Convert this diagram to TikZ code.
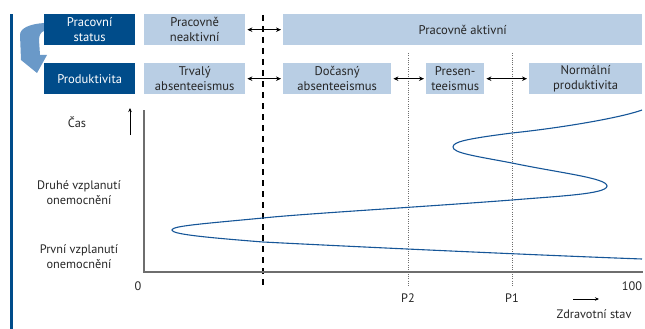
\documentclass[tikz,border=0pt]{standalone}
\usepackage{fontspec}
\setmainfont{PT Sans}
\usetikzlibrary{arrows.meta}

\definecolor{darkbox}{RGB}{0,76,138}
\definecolor{lightbox}{RGB}{185,206,228}
\definecolor{curveblue}{RGB}{22,86,152}
\definecolor{bendblue}{RGB}{106,153,200}
\definecolor{axisgray}{RGB}{110,110,110}

\tikzset{
  headbox/.style={fill=darkbox, text=white, minimum width=91pt, minimum height=31pt,
    align=center, inner sep=0pt, anchor=north west, font=\fontsize{12.6}{15}\selectfont},
  statebox/.style={fill=lightbox, text=black!85, minimum height=31pt,
    align=center, inner sep=0pt, anchor=north west, font=\fontsize{12.6}{15}\selectfont},
  twoway/.style={{Stealth[length=5pt,width=4.5pt]}-{Stealth[length=5pt,width=4.5pt]},
    thick, shorten >=2pt, shorten <=2pt},
  axistext/.style={align=center, text=black!85, font=\fontsize{12.3}{15}\selectfont},
}

\begin{document}
\begin{tikzpicture}[x=1pt, y=-1pt]
    \useasboundingbox (0,0) rectangle (645,329);

    % Side bar and bent arrow
    \fill[darkbox] (10,14) rectangle (13,329);
    \fill[bendblue] (44,23) .. controls (30,24) and (20,28) .. (20,35)
        -- (21,60) -- (37,73) -- (47,55) -- (40,55) -- (39,40)
        .. controls (39,35) and (41,32) .. (44,31) -- cycle;

    % Row labels
    \node[headbox] (status) at (44,14) {Pracovní\\status};
    \node[headbox] (prod) at (44,63) {Produktivita};

    % Boxes
    \node[statebox, minimum width=101pt] (neakt) at (144,14) {Pracovně\\neaktivní};
    \node[statebox, minimum width=359pt] (akt) at (283,14) {Pracovně aktivní};
    \node[statebox, minimum width=101pt] (trvaly) at (144,63) {Trvalý\\absenteeismus};
    \node[statebox, minimum width=108pt] (docasny) at (283,63) {Dočasný\\absenteeismus};
    \node[statebox, minimum width=58pt] (presen) at (426,63) {Presen-\\teeismus};
    \node[statebox, minimum width=113pt] (normal) at (529,63) {Normální\\produktivita};

    % Thresholds
    \draw[line width=2.2pt, dash pattern=on 6pt off 5pt] (263,15) -- (263,287);
    \draw[axisgray, line width=0.8pt, dash pattern=on 1pt off 1.3pt] (408,53) -- (408,287);
    \draw[axisgray, line width=0.8pt, dash pattern=on 1pt off 1.3pt] (512,53) -- (512,287);

    \draw[twoway] (neakt.east) -- (akt.west);
    \draw[twoway] (trvaly.east) -- (docasny.west);
    \draw[twoway] (docasny.east) -- (presen.west);
    \draw[twoway] (presen.east) -- (normal.west);

    % Axes
    \draw[axisgray, line width=1.1pt] (144,110) -- (144,272) -- (643,272);
    \node[axistext] (cas) at (77,122) {Čas};
    \coordinate (casbot) at (130,135);
    \coordinate (castop) at (130,108);
    \draw[-{Stealth[length=4pt,width=3.5pt]}, thick] (casbot) -- (castop);
    \node[axistext] (druhe) at (79,193) {Druhé vzplanutí\\onemocnění};
    \node[axistext] (prvni) at (79,257) {První vzplanutí\\onemocnění};
    \node[axistext] (nula) at (138,286) {0};
    \node[axistext] (sto) at (632,286) {100};
    \node[axistext] (ptwo) at (408,298) {P2};
    \node[axistext] (pone) at (512,298) {P1};
    \coordinate (stavleft) at (573,299);
    \coordinate (stavright) at (599,299);
    \draw[-{Stealth[length=4pt,width=3.5pt]}, thick] (stavleft) -- (stavright);
    \node[axistext] (stav) at (594,314) {Zdravotní stav};

    % Course of health
    \draw[curveblue, line width=1.1pt]
        (642,110) .. controls (620,118) and (560,128) .. (512,133)
        .. controls (465,139) and (453,142) .. (453,147)
        .. controls (453,153) and (475,156) .. (512,163)
        .. controls (560,173) and (607,178) .. (607,186)
        .. controls (607,194) and (560,196) .. (512,200)
        .. controls (420,207) and (300,214) .. (263,218)
        .. controls (200,224) and (172,226) .. (172,230)
        .. controls (172,234) and (200,237) .. (263,242)
        .. controls (400,249) and (560,256) .. (642,259);
\end{tikzpicture}
\end{document}
